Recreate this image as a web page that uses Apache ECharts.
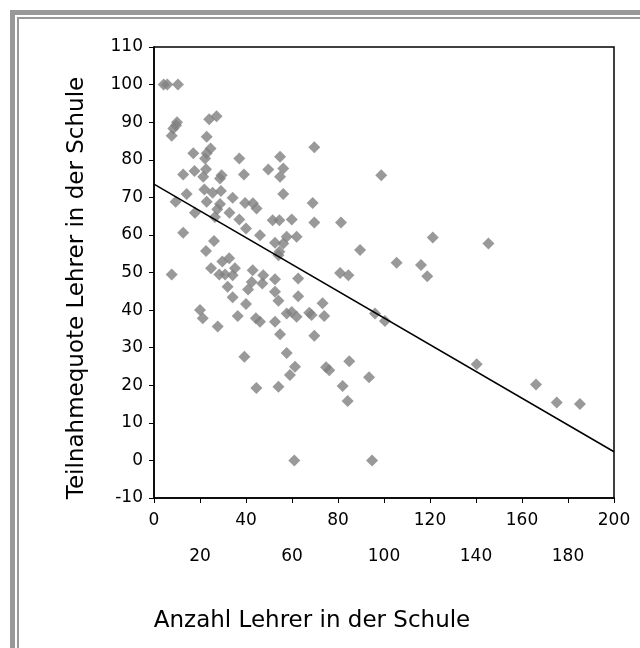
<!DOCTYPE html>
<html>
<head>
<meta charset="utf-8">
<script src="https://cdn.jsdelivr.net/npm/echarts@6/dist/echarts.min.js"></script>
<style>
html,body{margin:0;padding:0;background:#fff;}
#chart{width:640px;height:648px;}
</style>
</head>
<body>
<div id="chart"></div>
<script>
// Schools: [number of teachers, participation rate of teachers (%)]
var schools = [
  [4.2,100],[5.8,100],[10.4,100],[7.7,86.4],[8.4,88.3],[9.6,89.2],[10,90],[24,90.8],[27.2,91.6],
  [22.9,86.1],[24.6,83],[22.9,81.7],[22.2,80.3],[17.1,81.7],[37.1,80.3],[54.8,80.8],[49.7,77.4],
  [56.2,77.7],[54.8,75.5],[39.1,76.1],[12.7,76.1],[17.6,77],[22.6,77.5],[21.4,75.5],[29.4,75.9],[28.7,75],
  [14.2,70.9],[9.4,68.8],[17.8,65.9],[21.9,72.1],[25.5,71.2],[29.1,71.7],[22.9,68.8],[28.7,68.2],
  [27.5,66.8],[26.5,64.8],[34.2,69.9],[32.8,65.9],[37.1,64.1],[39.6,68.5],[43,68.4],[44.6,67],
  [40,61.7],[56.2,70.9],[51.6,63.9],[54.5,63.9],[59.9,64.1],[12.7,60.6],[26.1,58.4],[22.6,55.7],
  [46.1,59.9],[52.6,57.9],[56.2,57.7],[57.7,59.5],[62,59.5],[54.5,55.5],[54.1,54.6],[32.7,53.8],
  [29.7,52.9],[7.7,49.5],[24.8,51.1],[28.4,49.5],[30.9,49.5],[34.2,49.3],[35.2,51.1],[42.9,50.6],
  [47.5,49.3],[52.6,48.2],[62.7,48.4],[42.5,47.5],[40.9,45.5],[47.1,47.1],[32,46.2],[52.6,44.9],
  [34.2,43.4],[40,41.6],[54.1,42.5],[62.7,43.7],[20,40],[21.2,37.8],[27.7,35.6],[36.4,38.4],
  [44.3,37.8],[46.1,36.9],[52.6,36.9],[57.7,39.1],
  [54.8,33.6],[39.3,27.6],[57.7,28.6],[61.3,24.9],[59.1,22.7],[44.5,19.3],[54.1,19.6],[61,0],
  [69.7,83.3],[98.8,75.9],[69,68.5],[69.7,63.3],[81.3,63.3],[121.2,59.3],[89.6,56],[105.5,52.6],[116.1,52],
  [118.8,49],[80.9,49.9],[84.5,49.3],[73.3,41.8],[59.9,39.5],[62,38.2],[67.5,39.3],[68.5,38.7],
  [74,38.4],[96.1,39.1],[100.4,37.1],[69.7,33.2],[74.8,24.8],[76.2,24],[84.9,26.4],[93.5,22.1],
  [82,19.8],[84.2,15.8],[94.8,0],
  [145.4,57.7],[140.3,25.6],[166.1,20.2],[175.1,15.4],[185.2,15]
];
// Linear trend line end points
var trend = [[0,73.5],[200,2.3]];

var xTitle = 'Anzahl Lehrer in der Schule';
var yTitle = 'Teilnahmequote Lehrer in der Schule';

var FONT = 'DejaVu Sans';
var chart = echarts.init(document.getElementById('chart'), null, {renderer:'canvas'});
chart.setOption({
  animation:false,
  backgroundColor:'#fff',
  graphic:[
    {type:'rect', shape:{x:10,y:10,width:640,height:5}, style:{fill:'#999999'}},
    {type:'rect', shape:{x:10,y:10,width:5,height:648}, style:{fill:'#999999'}},
    {type:'rect', shape:{x:17,y:17,width:630,height:2}, style:{fill:'#999999'}},
    {type:'rect', shape:{x:17,y:17,width:2,height:640}, style:{fill:'#999999'}}
  ],
  grid:{left:154,right:26,top:47,bottom:150,show:true,borderColor:'#000',borderWidth:1.5,backgroundColor:'transparent'},
  xAxis:{
    type:'value',min:0,max:200,interval:20,
    name:xTitle,nameLocation:'middle',nameGap:112,
    nameTextStyle:{fontFamily:FONT,fontSize:23,color:'#000',padding:[0,144,0,0]},
    axisLine:{show:true,onZero:false,lineStyle:{color:'#000',width:1.5}},
    axisTick:{show:true,length:5,lineStyle:{color:'#000',width:1}},
    splitLine:{show:false},
    axisLabel:{
      margin:14,color:'#000',fontFamily:FONT,fontSize:17,
      formatter:function(v){ return (v % 40 === 0) ? '{a|'+v+'}' : '{b|'+v+'}'; },
      rich:{
        a:{fontFamily:FONT,fontSize:17,color:'#000'},
        b:{fontFamily:FONT,fontSize:17,color:'#000',padding:[36,0,0,0]}
      }
    }
  },
  yAxis:{
    type:'value',min:-10,max:110,interval:10,
    name:yTitle,nameLocation:'middle',nameGap:65,
    nameTextStyle:{fontFamily:FONT,fontSize:23,color:'#000',padding:[0,31,0,0]},
    axisLine:{show:true,onZero:false,lineStyle:{color:'#000',width:1.5}},
    axisTick:{show:true,length:5,lineStyle:{color:'#000',width:1}},
    splitLine:{show:false},
    axisLabel:{margin:11,color:'#000',fontFamily:FONT,fontSize:17}
  },
  series:[
    {type:'scatter',data:schools,symbol:'diamond',symbolSize:12,itemStyle:{color:'#808080'},z:2},
    {type:'line',data:trend,symbol:'none',lineStyle:{color:'#000',width:1.5},z:3}
  ]
});
</script>
</body>
</html>
